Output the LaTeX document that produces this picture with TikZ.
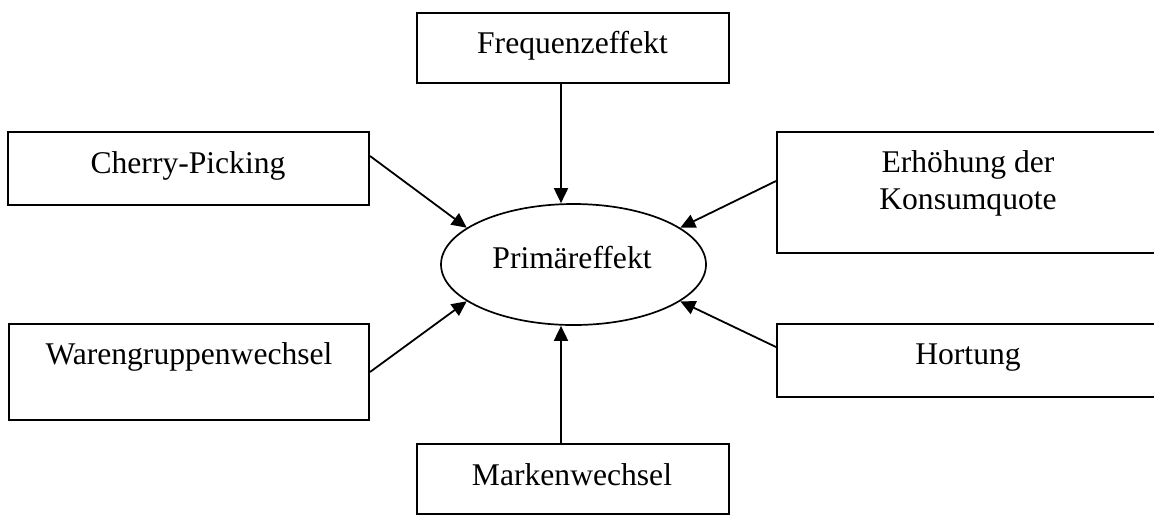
\documentclass[tikz,border=0pt]{standalone}
\usepackage{fontspec}
\setmainfont{Liberation Serif}
\usetikzlibrary{arrows.meta,shapes.geometric}
\begin{document}
\begin{tikzpicture}[x=0.5pt,y=-0.5pt,
  box/.style={draw, line width=1pt, rectangle, inner sep=0pt},
  effect/.style={draw, line width=0.85pt, ellipse, inner sep=0pt,
                 minimum width=132.5pt, minimum height=60.5pt},
  lbl/.style={font=\fontsize{15.8}{18.5}\selectfont, inner sep=0pt, align=center},
  arr/.style={-{Triangle[length=7.5pt,width=7pt]}, line width=0.9pt},
  ]
\useasboundingbox (0,0) rectangle (1154,516);

% outer boxes
\node[box, minimum width=156pt, minimum height=35pt]   (fe) at (573,48)    {};
\node[box, minimum width=180.5pt, minimum height=36.5pt] (cp) at (188.5,168.5) {};
\node[box, minimum width=193pt, minimum height=60.5pt] (ek) at (970,192.5) {};
\node[box, minimum width=180pt, minimum height=48pt]   (wg) at (189,372)   {};
\node[box, minimum width=193pt, minimum height=36.5pt] (ho) at (970,360.5) {};
\node[box, minimum width=156pt, minimum height=35pt]   (mw) at (573,479)   {};

% central effect
\node[effect] (prim) at (573.5,264.5) {};

% labels
\node[lbl, anchor=base] (feT) at (572.5,53)  {Frequenzeffekt};
\node[lbl, anchor=base] (cpT) at (188,173)   {Cherry-Picking};
\node[lbl, anchor=center] (ekT) at (968,183) {Erhöhung der\\Konsumquote};
\node[lbl, anchor=base] (wgT) at (189,364)   {Warengruppenwechsel};
\node[lbl, anchor=base] (hoT) at (968,364)   {Hortung};
\node[lbl, anchor=base] (mwT) at (572,485)   {Markenwechsel};
\node[lbl, anchor=base] (primT) at (572,268) {Primäreffekt};

% influences on the primary effect
\draw[arr] ([xshift=-6pt]fe.south) -- ([xshift=-6pt]fe.south |- prim.north);
\draw[arr] ([xshift=-6pt]mw.north) -- ([xshift=-6pt]mw.north |- prim.south);
\draw[arr] ([yshift=6.25pt]cp.east) -- (prim.161);
\draw[arr] ([yshift=5.75pt]ek.west) -- (prim.19);
\draw[arr] (wg.east) -- (prim.199);
\draw[arr] ([yshift=6.75pt]ho.west) -- (prim.341);
\end{tikzpicture}
\end{document}
